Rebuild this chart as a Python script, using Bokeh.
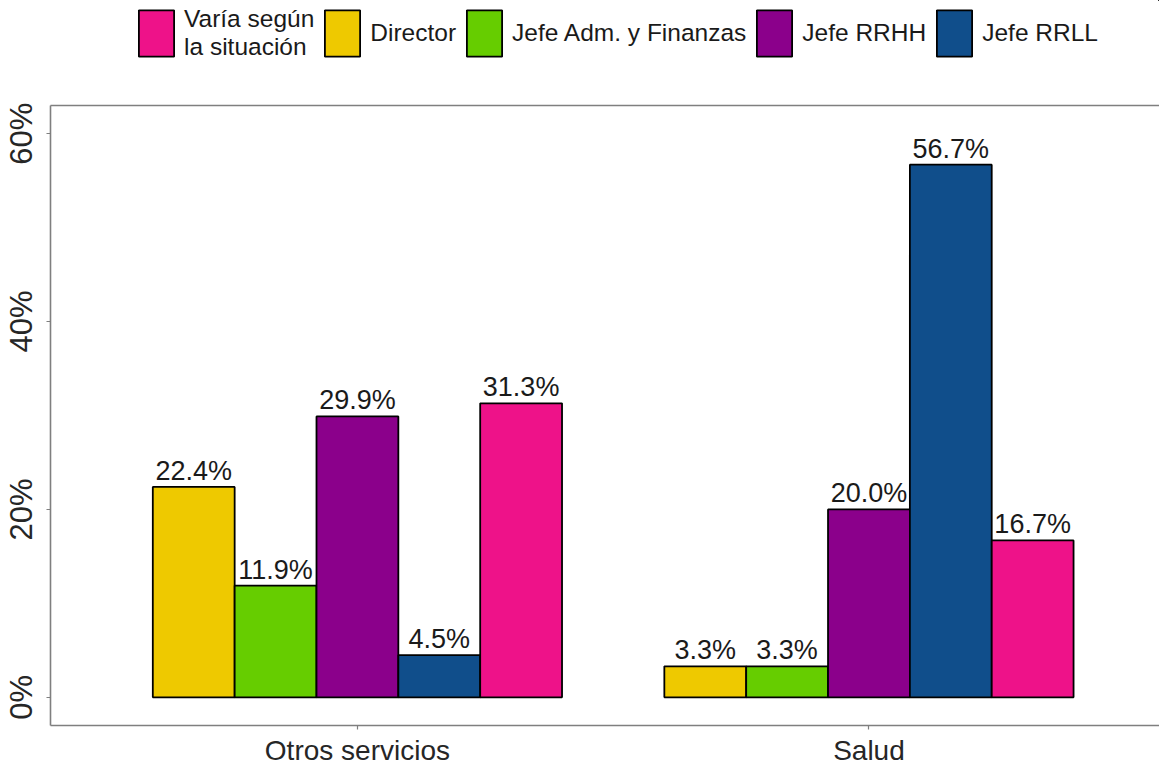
from bokeh.plotting import figure
from bokeh.layouts import column
from bokeh.models import (Range1d, FixedTicker, LinearAxis, Legend, LegendItem,
                          ColumnDataSource, LabelSet)
from bokeh.core.properties import value
from bokeh.embed import file_html
from bokeh.resources import INLINE

# ---- data ----
categories = ["Otros servicios", "Salud"]
series = ["Director", "Jefe Adm. y Finanzas", "Jefe RRHH", "Jefe RRLL",
          "Varía según\nla situación"]
colors = ["#EEC900", "#66CD00", "#8B008B", "#104E8B", "#EE1289"]
director = [22.4, 3.3]
jefe_adm = [11.9, 3.3]
jefe_rrhh = [29.9, 20.0]
jefe_rrll = [4.5, 56.7]
varia = [31.3, 16.7]
values = [director, jefe_adm, jefe_rrhh, jefe_rrll, varia]
legend_order = [4, 0, 1, 2, 3]
y_ticks = [0, 20, 40, 60]

FONT = "Liberation Sans"
GRAY = "#7f7f7f"
LEG_H = 66

# ---- main plot ----
p = figure(width=1159, height=768 - LEG_H, output_backend="svg", toolbar_location=None,
           x_range=Range1d(0.4, 2.568), y_range=Range1d(-3, 63),
           min_border_left=50, min_border_right=0, min_border_top=105 - LEG_H,
           min_border_bottom=43)
p.outline_line_color = None
p.xgrid.visible = False
p.ygrid.visible = False
p.background_fill_color = "white"

# ---- legend strip (shares the bar sources; its ranges show no bars) ----
lf = figure(width=1159, height=LEG_H, output_backend="svg", toolbar_location=None,
            x_range=Range1d(-2, -1), y_range=Range1d(-2, -1),
            x_axis_location=None, y_axis_location=None, min_border=0)
lf.outline_line_color = None
lf.xgrid.visible = False
lf.ygrid.visible = False

group_width = 0.8
bar_w = group_width / len(series)
leg_renderers = []
for j, (vals, col) in enumerate(zip(values, colors)):
    xs = [i + 1 - group_width / 2 + bar_w * (j + 0.5) for i in range(len(categories))]
    src = ColumnDataSource(dict(x=xs, top=vals, label=[f"{v:.1f}%" for v in vals]))
    p.vbar(x="x", top="top", bottom=0, width=bar_w, source=src,
           fill_color=col, line_color="black", line_width=1.8)
    labels = LabelSet(x="x", y="top", text="label", source=src, y_offset=7,
                      text_align="center", text_baseline="alphabetic",
                      text_font=value(FONT), text_font_size="27px",
                      text_color="#1a1a1a")
    p.add_layout(labels)
    r = lf.vbar(x="x", top="top", bottom=0, width=bar_w, source=src,
                fill_color=col, line_color="black", line_width=1.8)
    leg_renderers.append(r)

xa = p.xaxis[0]
xa.ticker = FixedTicker(ticks=[i + 1 for i in range(len(categories))])
xa.major_label_overrides = {i + 1: c for i, c in enumerate(categories)}
ya = p.yaxis[0]
ya.ticker = FixedTicker(ticks=y_ticks)
ya.major_label_overrides = {t: f"{t}%" for t in y_ticks}
ya.major_label_orientation = "vertical"

for ax in (xa, ya):
    ax.axis_line_color = GRAY
    ax.axis_line_width = 1.6
    ax.major_tick_line_color = GRAY
    ax.major_tick_line_width = 1.2
    ax.major_tick_out = 4
    ax.major_tick_in = 0
    ax.minor_tick_line_color = None
    ax.major_label_text_font = FONT
    ax.major_label_text_color = "#262626"
xa.major_label_text_font_size = "28px"
xa.major_label_standoff = 5
ya.major_label_text_font_size = "31px"
ya.major_label_standoff = 7

top = LinearAxis(ticker=FixedTicker(ticks=[]), major_label_text_font_size="0px",
                 axis_line_color=GRAY, axis_line_width=1.6,
                 major_tick_line_color=None, minor_tick_line_color=None)
p.add_layout(top, "above")

legend = Legend(items=[LegendItem(label=series[k], renderers=[leg_renderers[k]]) for k in legend_order],
                orientation="horizontal", location=(84, 4),
                glyph_width=44, glyph_height=58,
                label_text_font=FONT, label_text_font_size="24.5px",
                label_text_color="#1a1a1a",
                spacing=6, label_standoff=6, padding=0, margin=0,
                border_line_color=None, background_fill_alpha=0)
lf.add_layout(legend)

layout = column(lf, p, spacing=0)
open("out.html", "w").write(file_html(layout, INLINE))
